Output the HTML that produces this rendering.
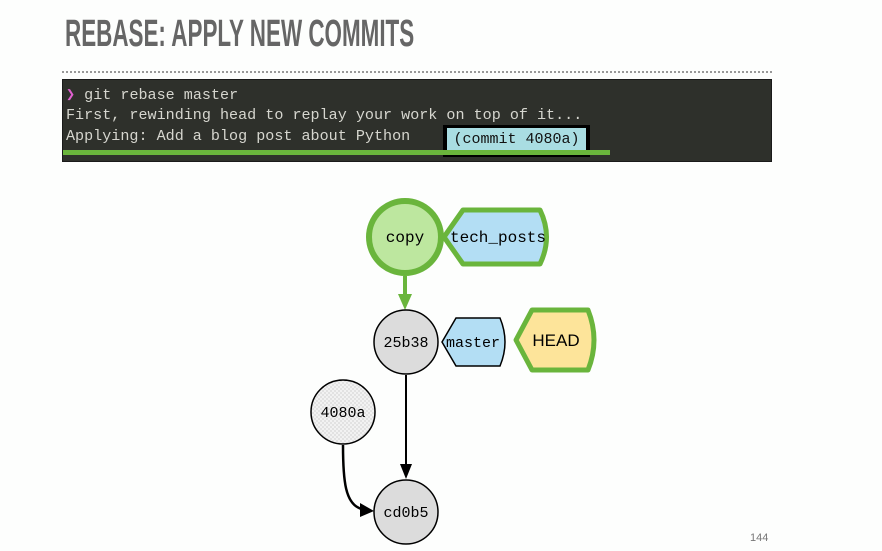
<!DOCTYPE html>
<html><head><meta charset="utf-8"><style>
html,body{margin:0;padding:0;background:#fdfefd;width:882px;height:551px;overflow:hidden;position:relative}
.t{position:absolute;left:65px;top:13px;font-family:"Liberation Sans",sans-serif;font-weight:bold;font-size:38px;color:#666;transform:scaleX(0.59);transform-origin:left top;white-space:nowrap}
.dots{position:absolute;left:62px;top:71px;width:710px;border-top:2px dotted #999}
.term{position:absolute;left:62px;top:79px;width:710px;height:83px;background:#2e302b;border:1px solid #1a1a1a;box-sizing:border-box}
.ln{position:absolute;left:3px;font-family:"Liberation Mono",monospace;font-size:15.1px;color:#d6d6cf;white-space:pre}
.hl{position:absolute;left:380px;top:45px;width:147px;height:32px;background:#000}
.hli{position:absolute;left:4px;top:3px;width:139px;height:24px;background:#a9dde2;font-family:"Liberation Mono",monospace;font-size:15px;color:#111;line-height:24px;text-align:center}
.gl{position:absolute;left:0;top:70px;width:547px;height:5px;background:#6ab53c}
.pg{position:absolute;left:750px;top:532px;font-family:"Liberation Sans",sans-serif;font-size:11px;color:#777}
</style></head><body>
<div class="t">REBASE: APPLY NEW COMMITS</div>
<div class="dots"></div>
<div class="term">
<div class="ln" style="top:5px"><span style="color:#e060d0">❯</span> git rebase master</div>
<div class="ln" style="top:26px">First, rewinding head to replay your work on top of it...</div>
<div class="ln" style="top:47px">Applying: Add a blog post about Python</div>
<div class="hl"><div class="hli">(commit 4080a)</div></div>
<div class="gl"></div>
</div>
<svg width="882" height="551" style="position:absolute;left:0;top:0" font-family="Liberation Mono, monospace" font-size="15">
<defs>
<pattern id="chk" width="4" height="4" patternUnits="userSpaceOnUse"><rect width="4" height="4" fill="#f2f2f2"/><rect width="2" height="2" fill="#e2e2e2"/><rect x="2" y="2" width="2" height="2" fill="#e2e2e2"/></pattern>
</defs>
<line x1="405" y1="276" x2="405" y2="296" stroke="#6ab53c" stroke-width="4"/>
<polygon points="398,294 412,294 405,310" fill="#6ab53c"/>
<line x1="406" y1="375" x2="406" y2="466" stroke="#000" stroke-width="2"/>
<polygon points="400,464 412,464 406,479" fill="#000"/>
<path d="M343,445 C343,480 345,505 362,509" fill="none" stroke="#000" stroke-width="2.5"/>
<polygon points="360,503 374,511 360,517" fill="#000"/>
<circle cx="405" cy="237" r="36" fill="#bde79f" stroke="#6ab53c" stroke-width="6"/>
<text x="405" y="242" text-anchor="middle" font-size="16">copy</text>
<path d="M444,237 L463,210 L540,210 Q553,237 540,264 L463,264 Z" fill="#b3def4" stroke="#6ab53c" stroke-width="5" stroke-linejoin="round"/>
<text x="498" y="242" text-anchor="middle" font-size="16">tech_posts</text>
<circle cx="406" cy="342" r="32" fill="#dcdcdc" stroke="#000" stroke-width="1.5"/>
<text x="406" y="347" text-anchor="middle" font-size="15">25b38</text>
<path d="M442,342 L456,318 L500,318 Q510,342 500,366 L456,366 Z" fill="#b3def4" stroke="#000" stroke-width="1.5"/>
<text x="473" y="347" text-anchor="middle" font-size="15">master</text>
<path d="M516,340 L532,310 L588,310 Q600,340 588,370 L532,370 Z" fill="#fde49a" stroke="#6ab53c" stroke-width="5" stroke-linejoin="round"/>
<text x="556" y="346" text-anchor="middle" font-family="Liberation Sans, sans-serif" font-size="17">HEAD</text>
<circle cx="343" cy="412" r="32" fill="url(#chk)" stroke="#000" stroke-width="1.5"/>
<text x="343" y="417" text-anchor="middle" font-size="15">4080a</text>
<circle cx="406" cy="512" r="32" fill="#dcdcdc" stroke="#000" stroke-width="1.5"/>
<text x="406" y="517" text-anchor="middle" font-size="15">cd0b5</text>
</svg>
<div class="pg">144</div>
</body></html>
